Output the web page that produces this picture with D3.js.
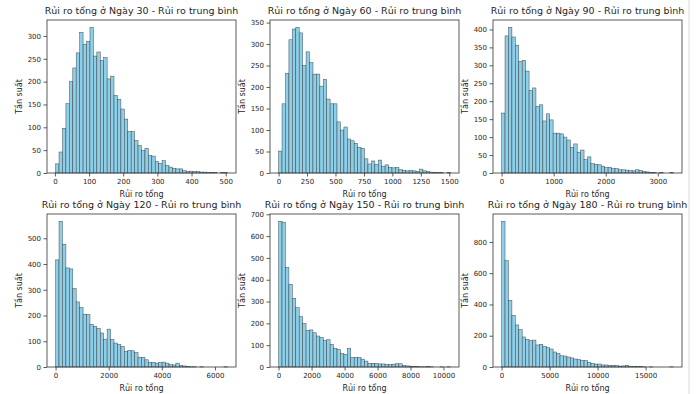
<!DOCTYPE html>
<html>
<head>
<meta charset="utf-8">
<script src="https://cdn.jsdelivr.net/npm/d3@7"></script>
<style>
  html, body { margin: 0; padding: 0; background: #fff; }
  svg { display: block; }
  text { font-family: "DejaVu Sans", sans-serif; fill: #262626; }
</style>
</head>
<body>
<svg id="fig" width="699" height="394"></svg>
<script>
// Simulated total-risk distributions, 50 equal-width bins per day
const days = [30, 60, 90, 120, 150, 180];
const binLow = [2, 0, 0, 0, 0, 0];
const binHigh = [505, 1510, 3300, 6470, 10420, 17900];

const counts30 = [20,46,98,152,200,230,263,308,282,288,319,256,265,246,253,206,212,170,161,140,
  118,91,91,71,60,49,54,38,37,25,21,27,17,13,10,9,9,5,3,4,3,3,2,2,1,1,1,0,1,1];
const counts60 = [51,161,232,310,335,339,326,250,282,257,230,230,202,218,172,161,161,119,100,107,
  79,75,69,60,57,33,21,28,20,30,16,19,13,12,13,8,6,5,6,5,4,9,5,3,2,1,1,1,0,1];
const counts90 = [167,382,406,379,356,311,314,284,230,237,186,190,145,165,148,111,111,109,100,92,
  71,81,58,64,37,45,26,24,23,19,15,16,12,12,9,9,8,7,6,9,7,4,3,2,1,0,1,0,0,1];
const counts120 = [416,566,477,385,381,305,253,231,205,204,165,158,150,132,108,147,107,93,87,80,
  60,65,63,56,38,37,28,18,18,15,17,19,15,10,8,15,5,4,2,1,1,0,1,0,0,0,0,0,0,1];
const counts150 = [668,664,456,379,315,272,231,200,168,170,157,142,136,121,125,104,86,80,61,58,
  86,43,44,44,36,27,17,17,16,14,14,12,12,13,15,15,7,5,4,3,2,1,1,2,1,0,0,1,0,1];
const counts180 = [932,680,426,330,269,239,192,177,168,172,141,145,132,124,115,96,87,72,70,64,
  58,51,47,41,41,28,23,19,19,13,13,11,11,9,6,7,11,4,4,2,2,1,0,1,0,0,0,0,0,1];
const seriesCounts = [counts30, counts60, counts90, counts120, counts150, counts180];

const xTicks = [
  [0, 100, 200, 300, 400, 500],
  [0, 250, 500, 750, 1000, 1250, 1500],
  [0, 1000, 2000, 3000],
  [0, 2000, 4000, 6000],
  [0, 2000, 4000, 6000, 8000, 10000],
  [0, 5000, 10000, 15000]
];
const yTicks = [
  [0, 50, 100, 150, 200, 250, 300],
  [0, 50, 100, 150, 200, 250, 300, 350],
  [0, 50, 100, 150, 200, 250, 300, 350, 400],
  [0, 100, 200, 300, 400, 500],
  [0, 100, 200, 300, 400, 500, 600, 700],
  [0, 200, 400, 600, 800]
];

const titleText = d => `Rủi ro tổng ở Ngày ${d} - Rủi ro trung bình`;
const xLabel = "Rủi ro tổng";
const yLabel = "Tần suất";

// Grid layout of the 2 x 3 subplots
const colLeft = [47, 270, 493];
const rowTop = [20, 214];
const W = 189, H = 153;

const svg = d3.select("#fig");
svg.append("rect").attr("width", 699).attr("height", 394).attr("fill", "#fff");

days.forEach((day, i) => {
  const counts = seriesCounts[i];
  const lo = binLow[i], hi = binHigh[i];
  const n = counts.length;
  const bw = (hi - lo) / n;
  const bins = counts.map((c, k) => ({ x0: lo + k * bw, x1: lo + (k + 1) * bw, c }));

  const pad = 0.05 * (hi - lo);
  const x = d3.scaleLinear().domain([lo - pad, hi + pad]).range([0, W]);
  const y = d3.scaleLinear().domain([0, d3.max(counts) * 1.05]).range([H, 0]);

  const g = svg.append("g")
    .attr("transform", `translate(${colLeft[i % 3]},${rowTop[Math.floor(i / 3)]})`);

  g.selectAll("rect.bar").data(bins).join("rect")
    .attr("class", "bar")
    .attr("x", d => x(d.x0))
    .attr("width", d => x(d.x1) - x(d.x0))
    .attr("y", d => y(d.c))
    .attr("height", d => y(0) - y(d.c))
    .attr("fill", "#8dcfe9")
    .attr("stroke", "#2a2a2a")
    .attr("stroke-opacity", 0.75)
    .attr("stroke-width", 0.55);

  const xa = g.append("g").attr("transform", `translate(0,${H})`)
    .call(d3.axisBottom(x).tickValues(xTicks[i]).tickFormat(d3.format("d"))
      .tickSize(3.5).tickPadding(3));
  const ya = g.append("g")
    .call(d3.axisLeft(y).tickValues(yTicks[i]).tickFormat(d3.format("d"))
      .tickSize(3.5).tickPadding(2.5));
  [xa, ya].forEach(a => {
    a.select(".domain").remove();
    a.selectAll("line").attr("stroke", "#333").attr("stroke-width", 0.8);
    a.selectAll("text").attr("font-size", "7px").attr("fill", "#262626")
      .attr("font-family", "DejaVu Sans, sans-serif");
  });

  // frame
  g.append("rect").attr("width", W).attr("height", H)
    .attr("fill", "none").attr("stroke", "#333").attr("stroke-width", 0.8);

  g.append("text").attr("x", W / 2).attr("y", -6)
    .attr("text-anchor", "middle").attr("font-size", "9.5px")
    .text(titleText(day));
  g.append("text").attr("x", W / 2).attr("y", H + 24)
    .attr("text-anchor", "middle").attr("font-size", "8px")
    .text(xLabel);
  g.append("text")
    .attr("transform", `translate(-25,${H / 2}) rotate(-90)`)
    .attr("text-anchor", "middle").attr("font-size", "8px")
    .text(yLabel);
});

// thin border at the right edge of the figure canvas
svg.append("line").attr("x1", 689).attr("x2", 689).attr("y1", 0).attr("y2", 394)
  .attr("stroke", "#e4e4e4").attr("stroke-width", 1.5);
</script>
</body>
</html>
